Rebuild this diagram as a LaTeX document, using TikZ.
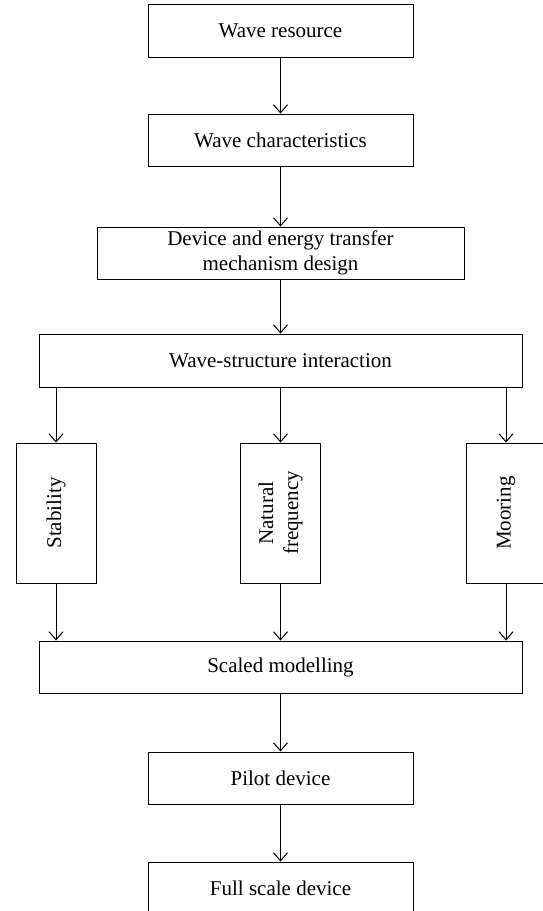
\documentclass[tikz,border=0pt]{standalone}
\usepackage{fontspec}
\setmainfont{Liberation Serif}
\usetikzlibrary{arrows.meta}
\begin{document}
\begin{tikzpicture}[x=1pt,y=-1pt,
  box/.style={draw, line width=1pt, inner sep=0pt, align=center, font=\fontsize{21}{25}\selectfont},
  vbox/.style={box, rotate=90, minimum width=140pt, minimum height=80pt},
  arr/.style={-{Straight Barb[length=8pt,width=14pt]}, line width=1pt}]
\useasboundingbox (0,0) rectangle (543,911);
\node[box, minimum width=265pt, minimum height=53pt] (res) at (280.5,30.5) {Wave resource};
\node[box, minimum width=265pt, minimum height=52pt] (char) at (280.5,140) {Wave characteristics};
\node[box, minimum width=367pt, minimum height=52pt] (dev) at (280.5,253) {Device and energy transfer\\mechanism design};
\node[box, minimum width=483pt, minimum height=53pt] (wsi) at (280.5,360.5) {Wave-structure interaction};
\node[vbox] (stab) at (56,513) {Stability};
\node[vbox] (nat) at (280.5,513) {Natural\\frequency};
\node[vbox] (moor) at (506,513) {Mooring};
\node[box, minimum width=483pt, minimum height=52pt] (scaled) at (280.5,667) {Scaled modelling};
\node[box, minimum width=265pt, minimum height=52pt] (pilot) at (280.5,778) {Pilot device};
\node[box, minimum width=265pt, minimum height=52pt] (full) at (280.5,888) {Full scale device};
\draw[arr] (res.south) -- (char.north);
\draw[arr] (char.south) -- (dev.north);
\draw[arr] (dev.south) -- (wsi.north);
\draw[arr] (wsi.south -| stab.center) -- (stab.east);
\draw[arr] (wsi.south -| nat.center) -- (nat.east);
\draw[arr] (wsi.south -| moor.center) -- (moor.east);
\draw[arr] (stab.west) -- (scaled.north -| stab.center);
\draw[arr] (nat.west) -- (scaled.north -| nat.center);
\draw[arr] (moor.west) -- (scaled.north -| moor.center);
\draw[arr] (scaled.south) -- (pilot.north);
\draw[arr] (pilot.south) -- (full.north);
\end{tikzpicture}
\end{document}
